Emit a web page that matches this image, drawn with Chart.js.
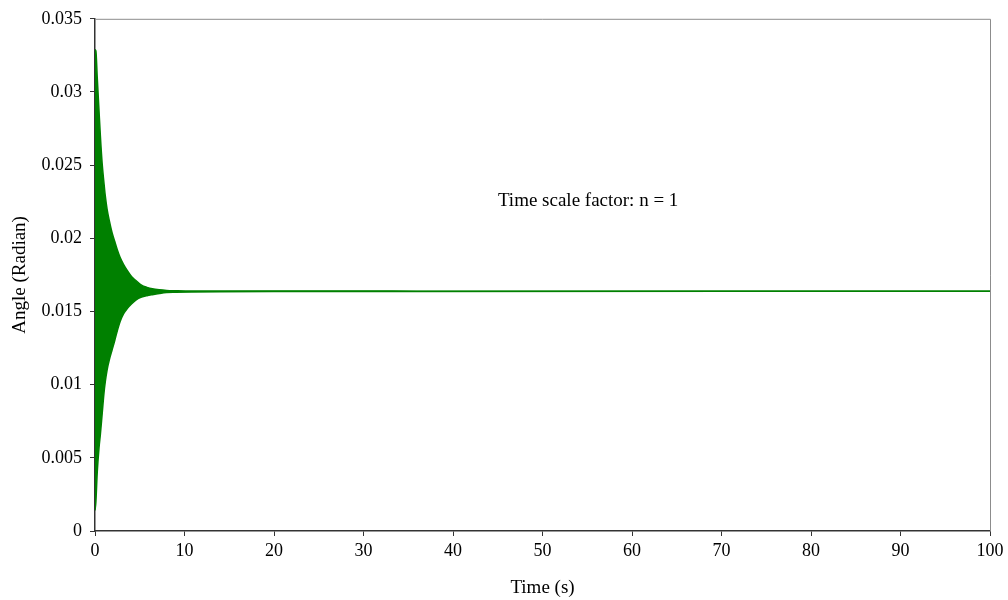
<!DOCTYPE html>
<html>
<head>
<meta charset="utf-8">
<script src="https://cdn.jsdelivr.net/npm/chart.js@4/dist/chart.umd.min.js"></script>
<style>
    html, body { margin: 0; padding: 0; background: #fff; }
    canvas { display: block; }
</style>
</head>
<body>
<canvas id="chart" width="1008" height="600"></canvas>
<script>
const times = [0, 0.1, 0.25, 0.45, 0.6, 0.8, 1.0, 1.15, 1.35, 1.6, 1.9, 2.2, 2.5, 2.8, 3.2, 3.6, 4.1, 4.6, 5.2, 5.8, 6.4, 7.2, 8, 9, 10.8, 14, 20, 30, 36, 100];
// upper and lower envelope of the angle (radian)
const upperEnv = [0.0329, 0.0328, 0.0310, 0.0287, 0.0270, 0.0251, 0.0238, 0.0229, 0.0220, 0.0212, 0.0204, 0.0198, 0.0192, 0.0187, 0.0182, 0.0178, 0.01737, 0.0171, 0.0168, 0.01665, 0.01655, 0.01648, 0.01644, 0.01642, 0.0164, 0.0164, 0.0164, 0.0164, 0.01639, 0.01638];
const lowerEnv = [0.0014, 0.0020, 0.0040, 0.0057, 0.0066, 0.0080, 0.0094, 0.0102, 0.0110, 0.0117, 0.01235, 0.0130, 0.0137, 0.0143, 0.01485, 0.0152, 0.01553, 0.0158, 0.01598, 0.01608, 0.01615, 0.01623, 0.01629, 0.01631, 0.01633, 0.01635, 0.01636, 0.01636, 0.01637, 0.01638];
const yTickLabels = ['0', '0.005', '0.01', '0.015', '0.02', '0.025', '0.03', '0.035'];
const xTickLabels = ['0', '10', '20', '30', '40', '50', '60', '70', '80', '90', '100'];
const noteText = 'Time scale factor: n = 1';

const green = '#008000';
const serif = "'Liberation Serif', 'Times New Roman', serif";

 // frame on top/right plus the text note
const framePlugin = {
    id: 'frame',
    beforeDatasetsDraw(chart) {
        const {ctx, chartArea} = chart;
        ctx.save();
        ctx.strokeStyle = '#8c8c8c';
        ctx.lineWidth = 1;
        ctx.beginPath();
        ctx.moveTo(chartArea.left, chartArea.top + 0.5);
        ctx.lineTo(chartArea.right + 0.5, chartArea.top + 0.5);
        ctx.lineTo(chartArea.right + 0.5, chartArea.bottom);
        ctx.stroke();
        ctx.restore();
    },
    afterDraw(chart) {
        const {ctx, scales} = chart;
        ctx.save();
        ctx.font = '19px ' + serif;
        ctx.fillStyle = '#000';
        ctx.textAlign = 'center';
        ctx.textBaseline = 'middle';
        ctx.fillText(noteText, scales.x.getPixelForValue(55.1), scales.y.getPixelForValue(0.02258));
        ctx.restore();
    }
};

const ctx = document.getElementById('chart').getContext('2d');
new Chart(ctx, {
    type: 'line',
    data: {
        datasets: [
            {
                data: times.map((t, i) => ({x: t, y: upperEnv[i]})),
                borderColor: green,
                borderWidth: 1.5,
                pointRadius: 0,
                cubicInterpolationMode: 'monotone',
                fill: false
            },
            {
                data: times.map((t, i) => ({x: t, y: lowerEnv[i]})),
                borderColor: green,
                borderWidth: 1.5,
                backgroundColor: green,
                pointRadius: 0,
                cubicInterpolationMode: 'monotone',
                fill: '-1'
            }
        ]
    },
    options: {
        responsive: false,
        animation: false,
        maintainAspectRatio: false,
        devicePixelRatio: 1,
        layout: { padding: { left: 0, right: 18, top: 18, bottom: 0 } },
        plugins: {
            legend: { display: false },
            tooltip: { enabled: false }
        },
        scales: {
            x: {
                type: 'linear',
                min: 0,
                max: 100,
                afterFit: s => { s.height = 69; },
                afterBuildTicks: s => { s.ticks = xTickLabels.map(v => ({value: Number(v)})); },
                ticks: {
                    callback: (v, i) => xTickLabels[i],
                    font: { family: serif, size: 18 },
                    color: '#000',
                    padding: 4,
                    autoSkip: false,
                    maxRotation: 0
                },
                grid: { drawOnChartArea: false, tickLength: 5, color: '#333' },
                border: { color: '#333', width: 1.5 },
                title: {
                    display: true,
                    text: 'Time (s)',
                    font: { family: serif, size: 19 },
                    color: '#000',
                    padding: { top: 0, bottom: 1 }
                }
            },
            y: {
                type: 'linear',
                min: 0,
                max: 0.035,
                afterFit: s => { s.width = 95; },
                afterBuildTicks: s => { s.ticks = yTickLabels.map(v => ({value: Number(v)})); },
                ticks: {
                    callback: (v, i) => yTickLabels[i],
                    font: { family: serif, size: 18 },
                    color: '#000',
                    padding: 8,
                    autoSkip: false
                },
                grid: { drawOnChartArea: false, tickLength: 5, color: '#333' },
                border: { color: '#333', width: 1.5 },
                title: {
                    display: true,
                    text: 'Angle (Radian)',
                    font: { family: serif, size: 19 },
                    color: '#000',
                    padding: { top: 9, bottom: 0 }
                }
            }
        }
    },
    plugins: [framePlugin]
});
</script>
</body>
</html>
